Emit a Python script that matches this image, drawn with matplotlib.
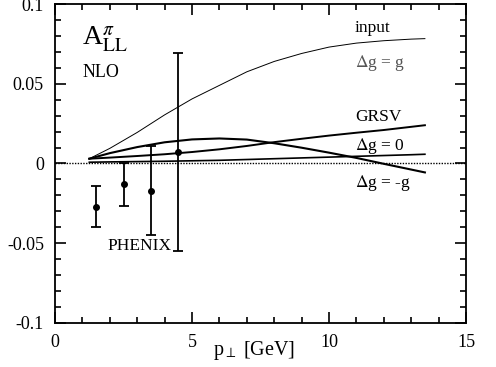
import matplotlib
matplotlib.use('Agg')
import matplotlib.pyplot as plt
from matplotlib.ticker import MultipleLocator, FixedLocator, FixedFormatter

plt.rcParams['font.family'] = ['Liberation Serif', 'DejaVu Serif']
plt.rcParams['mathtext.fontset'] = 'stix'

# NLO curves for A_LL^pi vs p_perp
pt = [1.25, 2, 3, 4, 5, 6, 7, 8, 9, 10, 11, 12, 13, 13.5]
all_input = [0.003, 0.0095, 0.0195, 0.0305, 0.0405, 0.049, 0.0575, 0.064,
             0.069, 0.073, 0.0755, 0.077, 0.078, 0.0783]
all_grsv = [0.003, 0.0037, 0.0047, 0.0058, 0.0072, 0.0089, 0.0110, 0.0134,
            0.0155, 0.0175, 0.0193, 0.021, 0.023, 0.024]
all_zero = [0.0008, 0.001, 0.0012, 0.0014, 0.0017, 0.002, 0.0025, 0.003,
            0.0035, 0.004, 0.0045, 0.005, 0.0055, 0.0058]
all_minus = [0.003, 0.0065, 0.0103, 0.0133, 0.0151, 0.0157, 0.0150, 0.0127,
             0.0099, 0.0068, 0.0035, -0.0002, -0.0038, -0.0056]

# PHENIX points
ph_pt = [1.5, 2.5, 3.5, 4.5]
ph_val = [-0.027, -0.013, -0.017, 0.007]
ph_err = [0.013, 0.0135, 0.028, 0.062]

fig = plt.figure(figsize=(4.96, 3.67), dpi=100)
ax = fig.add_axes([0.111, 0.120, 0.8285, 0.869])

ax.axhline(0, color='black', lw=1.0, ls=(0, (1, 1)))
ax.plot(pt, all_input, color='black', lw=0.7)
ax.plot(pt, all_grsv, color='black', lw=1.4)
ax.plot(pt, all_zero, color='black', lw=1.2)
ax.plot(pt, all_minus, color='black', lw=1.5)

ax.errorbar(ph_pt, ph_val, yerr=ph_err, fmt='o', color='black', ms=4,
            elinewidth=1.3, capsize=3.5, capthick=1.3)

ax.set_xlim(0, 15)
ax.set_ylim(-0.1, 0.1)

ax.xaxis.set_major_locator(MultipleLocator(5))
ax.xaxis.set_minor_locator(MultipleLocator(1))
ax.yaxis.set_major_locator(FixedLocator([-0.1, -0.05, 0, 0.05, 0.1]))
ax.yaxis.set_major_formatter(FixedFormatter(['-0.1', '-0.05', '0', '0.05', '0.1']))
ax.yaxis.set_minor_locator(MultipleLocator(0.01))
ax.tick_params(which='both', direction='in', top=True, right=True,
               labelsize=13, width=1.2)
ax.tick_params(which='major', length=8)
ax.tick_params(which='minor', length=4)
ax.tick_params(axis='x', pad=8)
ax.tick_params(axis='y', pad=8)
for s in ax.spines.values():
    s.set_linewidth(1.3)

ax.set_xlabel(r'p$_\perp$ [GeV]', fontsize=14.5)
ax.xaxis.set_label_coords(0.485, -0.085, transform=ax.transAxes)
ax.xaxis.label.set_va('center')

ax.text(1.0, 0.074, r'A$^{\pi}_{\rm LL}$', fontsize=20)
ax.text(1.0, 0.054, 'NLO', fontsize=13)
ax.text(10.95, 0.085, 'input', fontsize=12.5, va='center')
ax.text(10.95, 0.063, r'$\Delta$g = g', fontsize=12.5, va='center', color='#555555')
ax.text(10.95, 0.029, 'GRSV', fontsize=12.5, va='center')
ax.text(10.95, 0.011, r'$\Delta$g = 0', fontsize=12.5, va='center')
ax.text(10.95, -0.012, r'$\Delta$g = -g', fontsize=12.5, va='center')
ax.text(1.9, -0.052, 'PHENIX', fontsize=12.5, va='center')

fig.savefig('out.png', dpi=100)
